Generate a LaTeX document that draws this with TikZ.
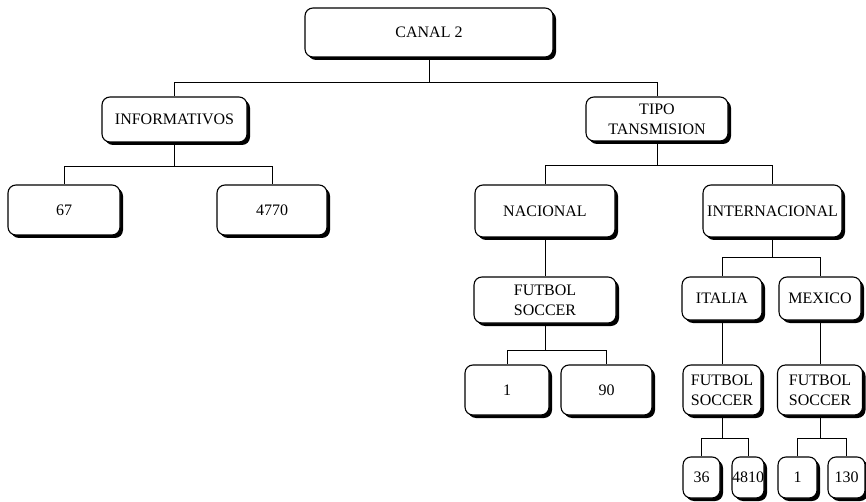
\documentclass[tikz,border=0pt]{standalone}
\usepackage{fontspec}
\setmainfont{Liberation Serif}
\usetikzlibrary{shadows}
\begin{document}
\begin{tikzpicture}[x=1pt,y=-1pt,
  box/.style={draw, line width=1.1pt, rounded corners=8pt, fill=white, inner sep=0pt,
    align=center, font=\fontsize{16}{20}\selectfont,
    drop shadow={shadow xshift=3pt, shadow yshift=-3pt, opacity=1, fill=black}},
  link/.style={line width=0.9pt}]
\useasboundingbox (0,0) rectangle (866,502);
\fill[white] (0,0) rectangle (866,502);
% nodes
\node[box, minimum width=248pt, minimum height=49pt] (canal) at (429,32.5) {CANAL 2};
\node[box, minimum width=145pt, minimum height=45pt] (info) at (174.5,119.5) {INFORMATIVOS};
\node[box, minimum width=142pt, minimum height=44pt] (tipo) at (657,119) {TIPO\\TANSMISION};
\node[box, minimum width=112pt, minimum height=50pt] (n67) at (64,210) {67};
\node[box, minimum width=110pt, minimum height=50pt] (n4770) at (272,210) {4770};
\node[box, minimum width=140pt, minimum height=52pt] (nac) at (545,211) {NACIONAL};
\node[box, minimum width=139pt, minimum height=52pt] (intl) at (772.5,211) {INTERNACIONAL};
\node[box, minimum width=142pt, minimum height=46pt] (futn) at (545,300) {FUTBOL\\SOCCER};
\node[box, minimum width=84pt, minimum height=50pt] (one) at (507,390) {1};
\node[box, minimum width=91pt, minimum height=50pt] (ninety) at (606.5,390) {90};
\node[box, minimum width=80pt, minimum height=43pt] (italia) at (722,298.5) {ITALIA};
\node[box, minimum width=82pt, minimum height=43pt] (mexico) at (820,298.5) {MEXICO};
\node[box, minimum width=78pt, minimum height=50pt] (futi) at (722,390) {FUTBOL\\SOCCER};
\node[box, minimum width=85pt, minimum height=50pt] (futm) at (820,390) {FUTBOL\\SOCCER};
\node[box, minimum width=37pt, minimum height=41pt] (n36) at (701.5,477.5) {36};
\node[box, minimum width=30pt, minimum height=41pt] (n4810) at (748,477.5) {4810};
\node[box, minimum width=39pt, minimum height=41pt] (one2) at (797.5,477.5) {1};
\node[box, minimum width=37pt, minimum height=41pt] (n130) at (846.5,477.5) {130};
% connectors
\draw[link] (canal.south) -- ++(0,24.5) -| (info.north);
\draw[link] (canal.south) -- ++(0,24.5) -| (tipo.north);
\draw[link] (info.south) -- ++(0,23.5) -| (n67.north);
\draw[link] (info.south) -- ++(0,23.5) -| (n4770.north);
\draw[link] (tipo.south) -- ++(0,24) -| (nac.north);
\draw[link] (tipo.south) -- ++(0,24) -| (intl.north);
\draw[link] (nac.south) -- (futn.north);
\draw[link] (futn.south) -- ++(0,27) -| (one.north);
\draw[link] (futn.south) -- ++(0,27) -| (ninety.north);
\draw[link] (intl.south) -- ++(0,20) -| (italia.north);
\draw[link] (intl.south) -- ++(0,20) -| (mexico.north);
\draw[link] (italia.south) -- (futi.north);
\draw[link] (mexico.south) -- (futm.north);
\draw[link] (futi.south) -- ++(0,23) -| (n36.north);
\draw[link] (futi.south) -- ++(0,23) -| (n4810.north);
\draw[link] (futm.south) -- ++(0,23) -| (one2.north);
\draw[link] (futm.south) -- ++(0,23) -| (n130.north);
\end{tikzpicture}
\end{document}
